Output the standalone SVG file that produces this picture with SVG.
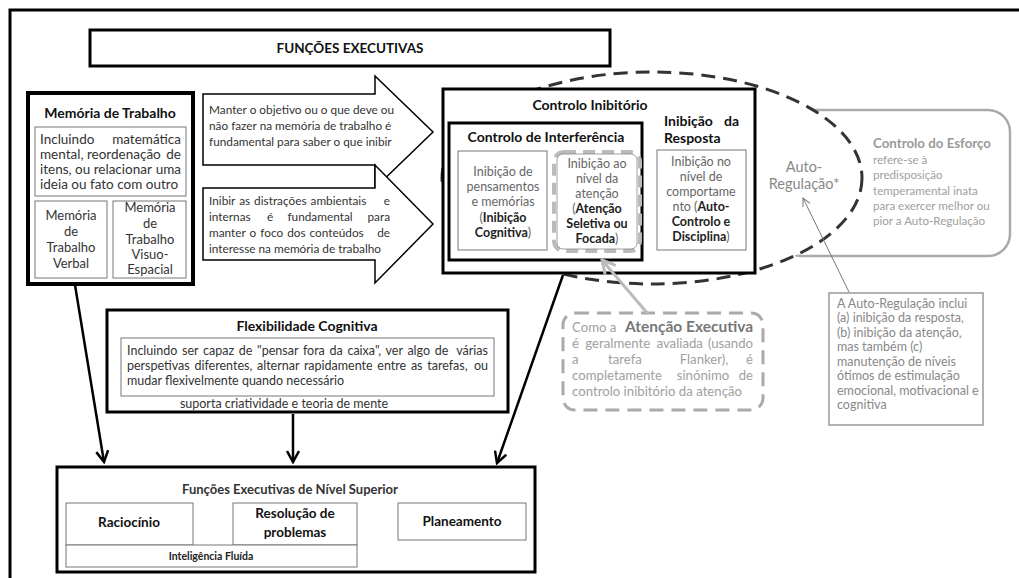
<svg xmlns="http://www.w3.org/2000/svg" width="1019" height="578" viewBox="0 0 1019 578">
<style>
text{font-family:Lato,"Open Sans","Liberation Sans",sans-serif;}
.hd{font-weight:700;font-size:14px;fill:#111}
.tx{font-size:12.5px;fill:#333}
.mt{font-size:13px;fill:#333}
.mi{font-size:13.5px;fill:#333}
.at{font-size:11.8px;fill:#333}
.gt{font-size:12.5px;fill:#666}
.b{font-weight:700;fill:#222}
.thk{fill:#fff;stroke:#000;stroke-width:3}
.thin{fill:#fff;stroke:#777;stroke-width:1}
.c{text-anchor:middle}
.e{text-anchor:end}
.arr{fill:#fff;stroke:#000;stroke-width:1.5;stroke-linejoin:miter}
.lg{fill:#a0a0a0;font-size:11.6px}
.ae{fill:#a0a0a0;font-size:13.2px}
.nt{fill:#888;font-size:12.5px}
.conn{fill:none;stroke:#000;stroke-width:2.5}
</style>
<defs>
<marker id="ah" viewBox="0 0 14 14" refX="12" refY="7" markerWidth="14" markerHeight="14" markerUnits="userSpaceOnUse" orient="auto"><path d="M1,1 L12,7 L1,13" fill="none" stroke="#000" stroke-width="2.5"/></marker>
<marker id="ahg" viewBox="0 0 16 16" refX="14" refY="8" markerWidth="16" markerHeight="16" markerUnits="userSpaceOnUse" orient="auto"><path d="M1,1 L14,8 L1,15" fill="none" stroke="#bbb" stroke-width="3"/></marker>
<marker id="aht" viewBox="0 0 10 10" refX="9" refY="5" markerWidth="10" markerHeight="10" markerUnits="userSpaceOnUse" orient="auto"><path d="M1,1 L9,5 L1,9" fill="none" stroke="#777" stroke-width="1"/></marker>
</defs>
<rect width="1019" height="578" fill="#fff"/>
<path d="M10,578 V10 H1019" fill="none" stroke="#000" stroke-width="3"/>

<g id="title">
<rect x="90" y="30" width="520" height="36" class="thk"/>
<text x="350" y="53" class="c" style="font-weight:700;font-size:13.5px;fill:#111">FUNÇÕES EXECUTIVAS</text>
</g>

<g id="controlo-esforco">
<rect x="780" y="110" width="230" height="146" rx="22" fill="#fff" stroke="#aaa" stroke-width="2.5"/>
<text x="873" y="148" style="font-weight:700;font-size:13.3px;fill:#999">Controlo do Esforço</text>
<text class="lg" x="873" y="164">refere-se à</text>
<text class="lg" x="873" y="179">predisposição</text>
<text class="lg" x="873" y="195">temperamental inata</text>
<text class="lg" x="873" y="210">para exercer melhor ou</text>
<text class="lg" x="873" y="225">pior a Auto-Regulação</text>
</g>

<g id="auto-regulacao">
<ellipse cx="652" cy="178" rx="210" ry="106" fill="#fff" stroke="#333" stroke-width="3" stroke-dasharray="14 8"/>
<text x="804" y="172" class="c" style="font-size:14.5px;fill:#888">Auto-</text>
<text x="804" y="189" class="c" style="font-size:14.5px;fill:#888">Regulação*</text>
</g>

<g id="memoria-trabalho">
<rect x="28" y="93" width="165" height="191" fill="#fff" stroke="#000" stroke-width="4"/>
<text x="110" y="118" class="c hd">Memória de Trabalho</text>
<rect x="35" y="127" width="151" height="69" class="thin"/>
<text class="mi" x="40" y="144">Incluindo</text><text class="mi e" x="181" y="144">matemática</text>
<text class="mi" x="40" y="159">mental, reordenação</text><text class="mi e" x="181" y="159">de</text>
<text class="mi" x="40" y="174">itens, ou relacionar</text><text class="mi e" x="181" y="174">uma</text>
<text class="mi" x="40" y="189">ideia ou fato com outro</text>
<rect x="35" y="201" width="72" height="77" class="thin"/>
<text class="mt c" x="71" y="220">Memória</text>
<text class="mt c" x="71" y="236">de</text>
<text class="mt c" x="71" y="252">Trabalho</text>
<text class="mt c" x="71" y="268">Verbal</text>
<rect x="113" y="201" width="73" height="77" class="thin"/>
<text class="mt c" x="150" y="212">Memória</text>
<text class="mt c" x="150" y="228">de</text>
<text class="mt c" x="150" y="244">Trabalho</text>
<text class="mt c" x="150" y="259">Visuo-</text>
<text class="mt c" x="150" y="274">Espacial</text>
</g>

<g id="seta-manter">
<path class="arr" d="M203,94 H375 V76 L433,132 L375,188 V165 H203 Z"/>
<text class="at" x="209" y="114">Manter o objetivo ou o que deve ou</text>
<text class="at" x="209" y="130">não fazer na memória de trabalho é</text>
<text class="at" x="209" y="146">fundamental para saber o que inibir</text>
</g>

<g id="seta-inibir">
<path class="arr" d="M203,188 H375 V165 L433,224 L375,283 V260 H203 Z"/>
<text class="at" x="209" y="205" style="word-spacing:1px">Inibir as distrações ambientais</text><text class="at e" x="390" y="205">e</text>
<text class="at" x="209" y="221">internas</text><text class="at c" x="270" y="221">é</text><text class="at c" x="320" y="221">fundamental</text><text class="at e" x="390" y="221">para</text>
<text class="at" x="209" y="237" style="word-spacing:1px">manter o foco dos conteúdos</text><text class="at e" x="390" y="237">de</text>
<text class="at" x="209" y="253">interesse  na memória de trabalho</text>
</g>

<g id="controlo-inibitorio">
<rect x="443" y="89" width="312" height="184" class="thk"/>
<text x="590" y="110" class="c hd">Controlo Inibitório</text>
<rect x="449" y="123" width="193" height="137" class="thk"/>
<text x="546" y="142" class="c hd">Controlo de Interferência</text>
<rect x="458" y="151" width="89" height="99" class="thin"/>
<text class="gt c" x="503" y="176">Inibição de</text>
<text class="gt c" x="503" y="191">pensamentos</text>
<text class="gt c" x="503" y="206">e memórias</text>
<text class="gt c" x="503" y="222">(<tspan class="b">Inibição</tspan></text>
<text class="gt c" x="503" y="237"><tspan class="b">Cognitiva</tspan>)</text>
<rect x="554" y="152" width="86" height="99" rx="10" fill="#fff" stroke="#bbb" stroke-width="4" stroke-dasharray="12 7"/>
<rect x="557" y="154" width="80" height="95" rx="6" fill="none" stroke="#888" stroke-width="0.8"/>
<text class="gt c" x="597" y="168">Inibição ao</text>
<text class="gt c" x="597" y="183">nível da</text>
<text class="gt c" x="597" y="198">atenção</text>
<text class="gt c" x="597" y="213">(<tspan class="b">Atenção</tspan></text>
<text class="gt c" x="597" y="228"><tspan class="b">Seletiva ou</tspan></text>
<text class="gt c" x="597" y="243"><tspan class="b">Focada</tspan>)</text>
<text class="hd" x="664" y="126">Inibição</text><text class="hd e" x="739" y="126">da</text>
<text class="hd" x="664" y="143">Resposta</text>
<rect x="657" y="150" width="89" height="100" class="thin"/>
<text class="gt c" x="701" y="166">Inibição no</text>
<text class="gt c" x="701" y="181">nível de</text>
<text class="gt c" x="701" y="196">comportame</text>
<text class="gt c" x="701" y="211">nto (<tspan class="b">Auto-</tspan></text>
<text class="gt c" x="701" y="226"><tspan class="b">Controlo e</tspan></text>
<text class="gt c" x="701" y="241"><tspan class="b">Disciplina</tspan>)</text>
</g>

<g id="atencao-executiva">
<rect x="563" y="313" width="200" height="97" rx="12" fill="#fff" stroke="#aaa" stroke-width="3" stroke-dasharray="14 8"/>
<text class="ae" x="572" y="332">Como a</text><text class="e" x="753" y="332" style="font-weight:700;fill:#777;font-size:15.5px">Atenção Executiva</text>
<text class="ae" x="572" y="348" style="word-spacing:3px">é geralmente avaliada</text><text class="ae e" x="753" y="348">(usando</text>
<text class="ae" x="572" y="364">a</text><text class="ae c" x="625" y="364">tarefa</text><text class="ae c" x="704" y="364">Flanker),</text><text class="ae e" x="753" y="364">é</text>
<text class="ae" x="572" y="380">completamente</text><text class="ae c" x="703" y="380">sinónimo</text><text class="ae e" x="753" y="380">de</text>
<text class="ae" x="572" y="396">controlo inibitório da atenção</text>
</g>

<g id="nota-auto-regulacao">
<rect x="829" y="293" width="154" height="132" fill="#fff" stroke="#999" stroke-width="1.5"/>
<text class="nt" x="837" y="308">A Auto-Regulação inclui</text>
<text class="nt" x="837" y="322">(a) inibição da resposta,</text>
<text class="nt" x="837" y="337">(b) inibição da atenção,</text>
<text class="nt" x="837" y="351">mas também (c)</text>
<text class="nt" x="837" y="366">manutenção de níveis</text>
<text class="nt" x="837" y="380">ótimos de estimulação</text>
<text class="nt" x="837" y="395">emocional, motivacional e</text>
<text class="nt" x="837" y="409">cognitiva</text>
</g>

<g id="flexibilidade">
<rect x="107" y="310" width="401" height="102" class="thk"/>
<text x="307" y="331" class="c hd">Flexibilidade Cognitiva</text>
<rect x="121" y="338" width="373" height="58" class="thin"/>
<text class="tx" x="127" y="355" style="word-spacing:1.5px">Incluindo ser capaz de "pensar fora da caixa", ver algo de</text><text class="tx e" x="488" y="355">várias</text>
<text class="tx" x="127" y="370" style="word-spacing:1.5px">perspetivas diferentes, alternar rapidamente entre as tarefas,</text><text class="tx e" x="488" y="370">ou</text>
<text class="tx" x="127" y="385">mudar flexivelmente quando necessário</text>
<text class="tx c" x="284" y="408">suporta criatividade e teoria de mente</text>
</g>

<g id="nivel-superior">
<rect x="57" y="467" width="478" height="105" class="thk"/>
<text x="290" y="494" class="c" style="font-weight:700;font-size:13px;fill:#333">Funções Executivas de Nível Superior</text>
<rect x="66" y="503" width="127" height="42" class="thin"/>
<text x="129" y="527" class="c hd" style="font-size:13.5px">Raciocínio</text>
<rect x="233" y="503" width="124" height="42" class="thin"/>
<text x="295" y="518" class="c hd" style="font-size:13.5px">Resolução de</text>
<text x="295" y="537" class="c hd" style="font-size:13.5px">problemas</text>
<rect x="398" y="503" width="128" height="37" class="thin"/>
<text x="462" y="526" class="c hd" style="font-size:13.5px">Planeamento</text>
<rect x="66" y="545" width="291" height="22" class="thin"/>
<text x="211" y="560" class="c" style="font-weight:700;font-size:10.5px;fill:#222">Inteligência Fluída</text>
</g>

<g id="connectors">
<line class="conn" x1="75" y1="285" x2="104" y2="462" marker-end="url(#ah)"/>
<line class="conn" x1="293" y1="414" x2="293" y2="462" marker-end="url(#ah)"/>
<line class="conn" x1="563" y1="275" x2="497" y2="463" marker-end="url(#ah)"/>
<line x1="648" y1="314" x2="602" y2="260" fill="none" stroke="#bbb" stroke-width="3" marker-end="url(#ahg)"/>
<line x1="849" y1="292" x2="803" y2="198" fill="none" stroke="#777" stroke-width="1" marker-end="url(#aht)"/>
</g>
</svg>
